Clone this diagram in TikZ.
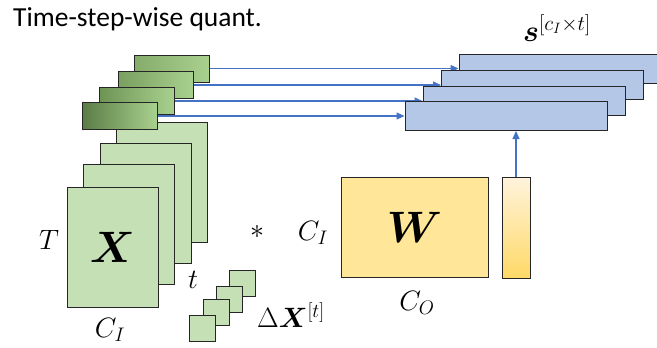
\RequirePackage{fix-cm}
\documentclass[tikz,border=0pt]{standalone}
\usepackage{fontspec}
\setmainfont{Carlito}
\usepackage{bm}
\usetikzlibrary{arrows.meta}
\definecolor{inputgreen}{HTML}{C5E0B4}
\definecolor{bardarkA}{HTML}{86AC6B}
\definecolor{bardarkB}{HTML}{7A9F60}
\definecolor{bardarkC}{HTML}{6E9455}
\definecolor{bardarkD}{HTML}{5A7D46}
\definecolor{barlight}{HTML}{A9D18E}
\definecolor{scaleblue}{HTML}{B4C7E7}
\definecolor{arrowblue}{HTML}{4472C4}
\definecolor{weightyellow}{HTML}{FFE699}
\definecolor{scaletop}{HTML}{FFF3DC}
\definecolor{scalebot}{HTML}{FFD966}

\tikzset{
  plane/.style={draw=black!85, line width=1pt, fill=inputgreen, minimum width=91pt, minimum height=120pt, inner sep=0pt},
  stepbar/.style={draw=black!85, line width=1pt, minimum width=75pt, minimum height=27pt, right color=barlight},
  patch/.style={draw=black!85, line width=1pt, fill=inputgreen, minimum width=26pt, minimum height=26pt, inner sep=0pt},
  scalebar/.style={draw=black!85, line width=1pt, fill=scaleblue, minimum width=202pt, minimum height=29pt},
  flow/.style={draw=arrowblue, line width=1.2pt, -{Triangle[length=8pt,width=7pt]}},
  mathlbl/.style={font=\fontsize{28}{30}\selectfont, inner sep=0pt}
}

\begin{document}
\begin{tikzpicture}[x=1pt, y=-1pt]
  \useasboundingbox (0,0) rectangle (657,348);
  \clip (0,0) rectangle (657,348);

  \node[anchor=base west, font=\fontsize{27.5}{30}\selectfont, inner sep=0pt] (title) at (13,27) {Time-step-wise quant.};

  % input tensor X
  \node[plane] (xa) at (161.5,182) {};
  \node[plane] (xb) at (146,203.5) {};
  \node[plane] (xc) at (129,224) {};
  \node[plane] (xd) at (112.5,247) {};
  \node[font=\fontsize{44}{46}\selectfont, inner sep=0pt] (xlbl) at (xd) {$\bm{X}$};
  \node[mathlbl] (tlbl) at (49,240) {$T$};
  \node[mathlbl] (cilbl) at (110,330) {$C_I$};
  \node[mathlbl] (steplbl) at (193,280) {$t$};

  % time-step slices
  \node[stepbar, left color=bardarkA] (ga) at (172,68.5) {};
  \node[stepbar, left color=bardarkB] (gb) at (156,85) {};
  \node[stepbar, left color=bardarkC] (gc) at (137,101) {};
  \node[stepbar, left color=bardarkD] (gd) at (120,116) {};

  % scale bars, each arrow tucked under the next bar
  \node[scalebar] (sa) at (560,68.5) {};
  \draw[flow] (ga.east) -- (sa.west);
  \node[scalebar] (sb) at (542.5,85) {};
  \draw[flow] (gb.east) -- (sb.west);
  \node[scalebar] (sc) at (524,101) {};
  \draw[flow] (gc.east) -- (sc.west);
  \node[scalebar] (sd) at (506,116) {};
  \draw[flow] (gd.east) -- (sd.west);

  \node[font=\fontsize{30}{32}\selectfont, inner sep=0pt] (slbl) at (557,28) {$\bm{s}^{[c_I\times t]}$};

  % delta patches
  \node[patch] (pa) at (242,283) {};
  \node[patch] (pb) at (229.5,299) {};
  \node[patch] (pc) at (216,312) {};
  \node[patch] (pd) at (202.5,328) {};
  \node[mathlbl] (dlbl) at (291,315) {$\Delta\bm{X}^{[t]}$};
  \node[mathlbl] (star) at (257,232) {$*$};

  % weight
  \node[draw=black!85, line width=1pt, fill=weightyellow, minimum width=147pt, minimum height=100pt] (w) at (414.5,227) {};
  \node[font=\fontsize{44}{46}\selectfont, inner sep=0pt] (wlbl) at (w) {$\bm{W}$};
  \node[mathlbl] (wci) at (313,233) {$C_I$};
  \node[mathlbl] (wco) at (417,303) {$C_O$};
  \node[draw=black!85, line width=1pt, top color=scaletop, bottom color=scalebot, minimum width=28pt, minimum height=101pt] (wscale) at (516,227.5) {};
  \draw[flow] (wscale.north) -- (wscale.north |- sd.south);
\end{tikzpicture}
\end{document}
